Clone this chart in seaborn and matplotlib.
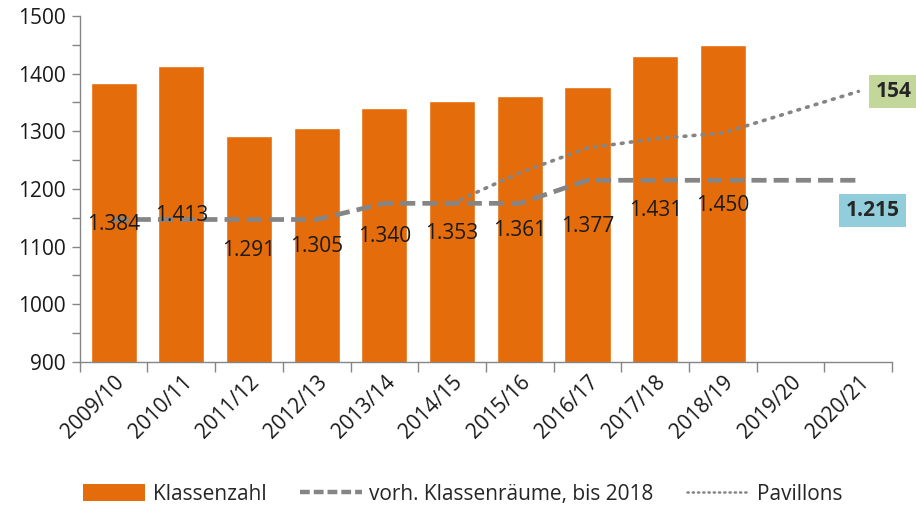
import matplotlib
matplotlib.use('Agg')
import matplotlib.pyplot as plt
from matplotlib.patches import Patch
from matplotlib.lines import Line2D
from matplotlib.ticker import MultipleLocator, FixedLocator
import numpy as np
import pandas as pd
import seaborn as sns

# Data
years = ['2009/10', '2010/11', '2011/12', '2012/13', '2013/14', '2014/15',
         '2015/16', '2016/17', '2017/18', '2018/19', '2019/20', '2020/21']
class_years = years[:10]
class_counts = [1384, 1413, 1291, 1305, 1340, 1353, 1361, 1377, 1431, 1450]
rooms = [1147, 1147, 1147, 1147, 1175, 1175, 1175, 1215, 1215, 1215, 1215, 1215]
pavillon_years = years[5:]
pavillon_total = [1175, 1228, 1271, 1287, 1297, 1333, 1369]

orange = '#E46C0A'
grey = '#858585'

sns.set_theme(style='white')
plt.rcParams['font.family'] = ['Open Sans', 'DejaVu Sans']
plt.rcParams['font.size'] = 15

fig, ax = plt.subplots(figsize=(9.16, 5.12), dpi=100)
fig.subplots_adjust(left=0.087, right=0.974, top=0.969, bottom=0.293)

bars = pd.DataFrame({'year': class_years, 'count': class_counts})
sns.barplot(data=bars, x='year', y='count', order=years, color=orange,
            saturation=1, width=0.68, ax=ax)

pos = {y: i for i, y in enumerate(years)}
sns.lineplot(x=[pos[y] for y in years], y=rooms, ax=ax, color=grey,
             linewidth=3.4, linestyle=(0, (3.2, 1.5)))
sns.lineplot(x=[pos[y] for y in pavillon_years], y=pavillon_total, ax=ax,
             color=grey, linewidth=2.6, linestyle=(0, (0.5, 2.0)))
ax.lines[-1].set_dash_capstyle('round')

ax.set_xlim(-0.5, len(years) - 0.5)
ax.set_ylim(900, 1500)

# data labels centred in the visible part of each bar
for y, v in zip(class_years, class_counts):
    ax.text(pos[y], (900 + v) / 2 - 3, f"{v:,}".replace(',', '.'),
            ha='center', va='center', fontsize=15, color='#1a1a1a')

# end annotations
ax.text(11.52, pavillon_total[-1], str(pavillon_total[-1] - rooms[-1]),
        ha='center', va='center', fontsize=15, fontweight='bold',
        clip_on=False,
        bbox=dict(boxstyle='square,pad=0.3', fc='#C4D79B', ec='none'))
ax.text(11.21, rooms[-1] - 52, f"{rooms[-1]:,}".replace(',', '.'),
        ha='center', va='center', fontsize=15, fontweight='bold',
        clip_on=False,
        bbox=dict(boxstyle='square,pad=0.3', fc='#92CDDC', ec='none'))

ax.set_xlabel('')
ax.set_ylabel('')
for s in ['top', 'right']:
    ax.spines[s].set_visible(False)
for s in ['left', 'bottom']:
    ax.spines[s].set_color(grey)
    ax.spines[s].set_linewidth(1)

ax.yaxis.set_major_locator(MultipleLocator(100))
ax.yaxis.set_minor_locator(MultipleLocator(50))
ax.tick_params(axis='y', which='both', left=True, length=6, width=1,
               color=grey, labelsize=15, labelcolor='#1a1a1a', pad=4)
ax.set_xticks(range(len(years)))
ax.set_xticklabels(years, rotation=45, ha='right', rotation_mode='anchor')
ax.xaxis.set_minor_locator(FixedLocator(np.arange(-0.5, len(years), 1)))
ax.tick_params(axis='x', which='major', length=0, labelsize=15,
               labelcolor='#1a1a1a', pad=7)
ax.tick_params(axis='x', which='minor', bottom=True, length=7, width=1,
               color=grey)

dotted = Line2D([], [], color=grey, linewidth=1.8, linestyle=(0, (0.5, 1.6)))
dotted.set_dash_capstyle('round')
handles = [
    Patch(facecolor=orange, edgecolor='none'),
    Line2D([], [], color=grey, linewidth=3.2, linestyle=(0, (2.2, 0.9))),
    dotted,
]
labels = ['Klassenzahl', 'vorh. Klassenräume, bis 2018', 'Pavillons']
fig.legend(handles, labels, loc='center', bbox_to_anchor=(0.505, 0.035),
           ncol=3, frameon=False, fontsize=15, handlelength=3.0,
           handleheight=0.9, handletextpad=0.35, columnspacing=1.6)

fig.savefig('out.png', dpi=100)
